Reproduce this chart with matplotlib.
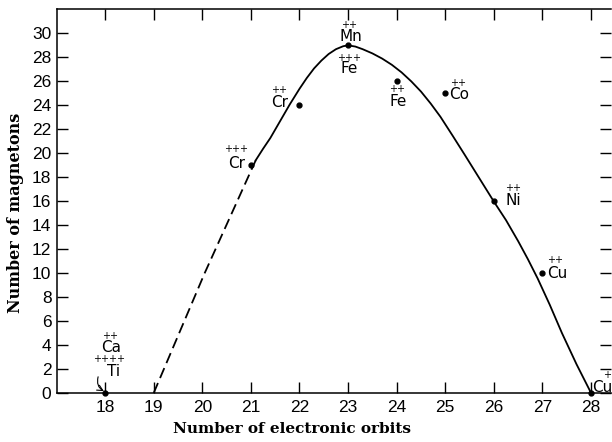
import matplotlib
matplotlib.use("Agg")
import matplotlib.pyplot as plt

# measured ions (orbits, magnetons)
ion_x = [18, 21, 22, 23, 24, 25, 26, 27, 28]
ion_y = [0, 19, 24, 29, 26, 25, 16, 10, 0]

# curve
dash_x = [19.0, 20.05, 21.1]
dash_y = [0.0, 10.0, 19.4]
curve_x = [21.1, 21.25, 21.4, 21.6, 21.8, 22.0, 22.15, 22.3, 22.45, 22.6, 22.75,
           22.9, 23.0, 23.15, 23.3, 23.5, 23.7, 23.9, 24.1, 24.3, 24.5, 24.7, 24.9,
           25.15, 25.4, 25.7, 26.0, 26.25, 26.5, 26.7, 26.9, 27.15, 27.4, 27.7, 28.0]
curve_y = [19.4, 20.35, 21.25, 22.65, 24.05, 25.35, 26.25, 27.05, 27.7, 28.25, 28.65,
           28.9, 28.97, 28.87, 28.65, 28.3, 27.87, 27.35, 26.72, 25.97, 25.12, 24.12, 23.02,
           21.45, 19.85, 17.9, 15.95, 14.4, 12.65, 11.15, 9.55, 7.35, 5.0, 2.4, 0.0]

xticks = list(range(18, 29))
yticks = list(range(0, 31, 2))

W, H = 612, 442
fig = plt.figure(figsize=(W / 100, H / 100), dpi=100)
ax = fig.add_axes([57 / W, 49 / H, (611 - 57) / W, (393 - 9) / H])

ax.plot(dash_x, dash_y, color="black", lw=1.3, dashes=(6, 3))
ax.plot(curve_x, curve_y, color="black", lw=1.3, solid_joinstyle="round")
ax.plot(ion_x, ion_y, "o", color="black", ms=3.5, clip_on=False)

ax.set_xlim(17.01, 28.41)
ax.set_ylim(0, 32)
ax.set_xticks(xticks)
ax.set_yticks(yticks)
ax.tick_params(direction="in", length=8, width=1, top=True, right=True,
               labelsize=12.5, color="black")
ax.tick_params(axis="x", pad=5)
ax.tick_params(axis="y", pad=4)
for lab in ax.get_xticklabels() + ax.get_yticklabels():
    lab.set_family("Liberation Sans")
for s in ax.spines.values():
    s.set_linewidth(1.1)
ax.spines["right"].set_visible(False)

ax.set_xlabel("Number of electronic orbits", family="DejaVu Serif",
              fontweight="bold", fontsize=11)
ax.set_ylabel("Number of magnetons", family="DejaVu Serif",
              fontweight="bold", fontsize=11.5)
ax.xaxis.set_label_coords(0.424, -0.075)
ax.yaxis.set_label_coords(-0.0758, 0.469)
ax.xaxis.label.set_va("top")
ax.yaxis.label.set_va("center")

# labels: (text, anchor x, anchor y, dx px, dy px, size)
labels = [
    ("Cr", 21, 19, -14, 2, 11), ("+++", 21, 19, -15, 16, 7),
    ("Cr", 22, 24, -20, 2, 11), ("++", 22, 24, -20, 15, 7),
    ("Mn", 23, 29, 3, 8, 11), ("++", 23, 29, 1, 20, 7),
    ("Fe", 23, 29, 1, -24, 11), ("+++", 23, 29, 1, -13, 7),
    ("Fe", 24, 26, 1, -21, 11), ("++", 24, 26, 0, -8, 7),
    ("Co", 25, 25, 14, -2, 11), ("++", 25, 25, 13, 10, 7),
    ("Ni", 26, 16, 19, 0, 11), ("++", 26, 16, 19, 13, 7),
    ("Cu", 27, 10, 15, 0, 11), ("++", 27, 10, 13, 13, 7),
    ("Cu", 28, 0, 11, 6, 11), ("+", 28, 0, 16, 18, 7),
    ("Ca", 18, 0, 6, 45, 11), ("++", 18, 0, 5, 57, 7),
    ("Ti", 18, 0, 8, 22, 11), ("++++", 18, 0, 4, 34, 7),
]
for txt, x0, y0, dx, dy, fs in labels:
    ax.annotate(txt, (x0, y0), xytext=(dx, dy), textcoords="offset pixels",
                ha="center", va="center", fontsize=fs, annotation_clip=False)

ax.annotate("", xy=(18, 0.1), xytext=(-7, 15), textcoords="offset pixels",
            arrowprops=dict(arrowstyle="->", lw=0.8, color="black",
                            connectionstyle="arc3,rad=0.4", shrinkA=0, shrinkB=1))

fig.savefig("out.png", dpi=100)
